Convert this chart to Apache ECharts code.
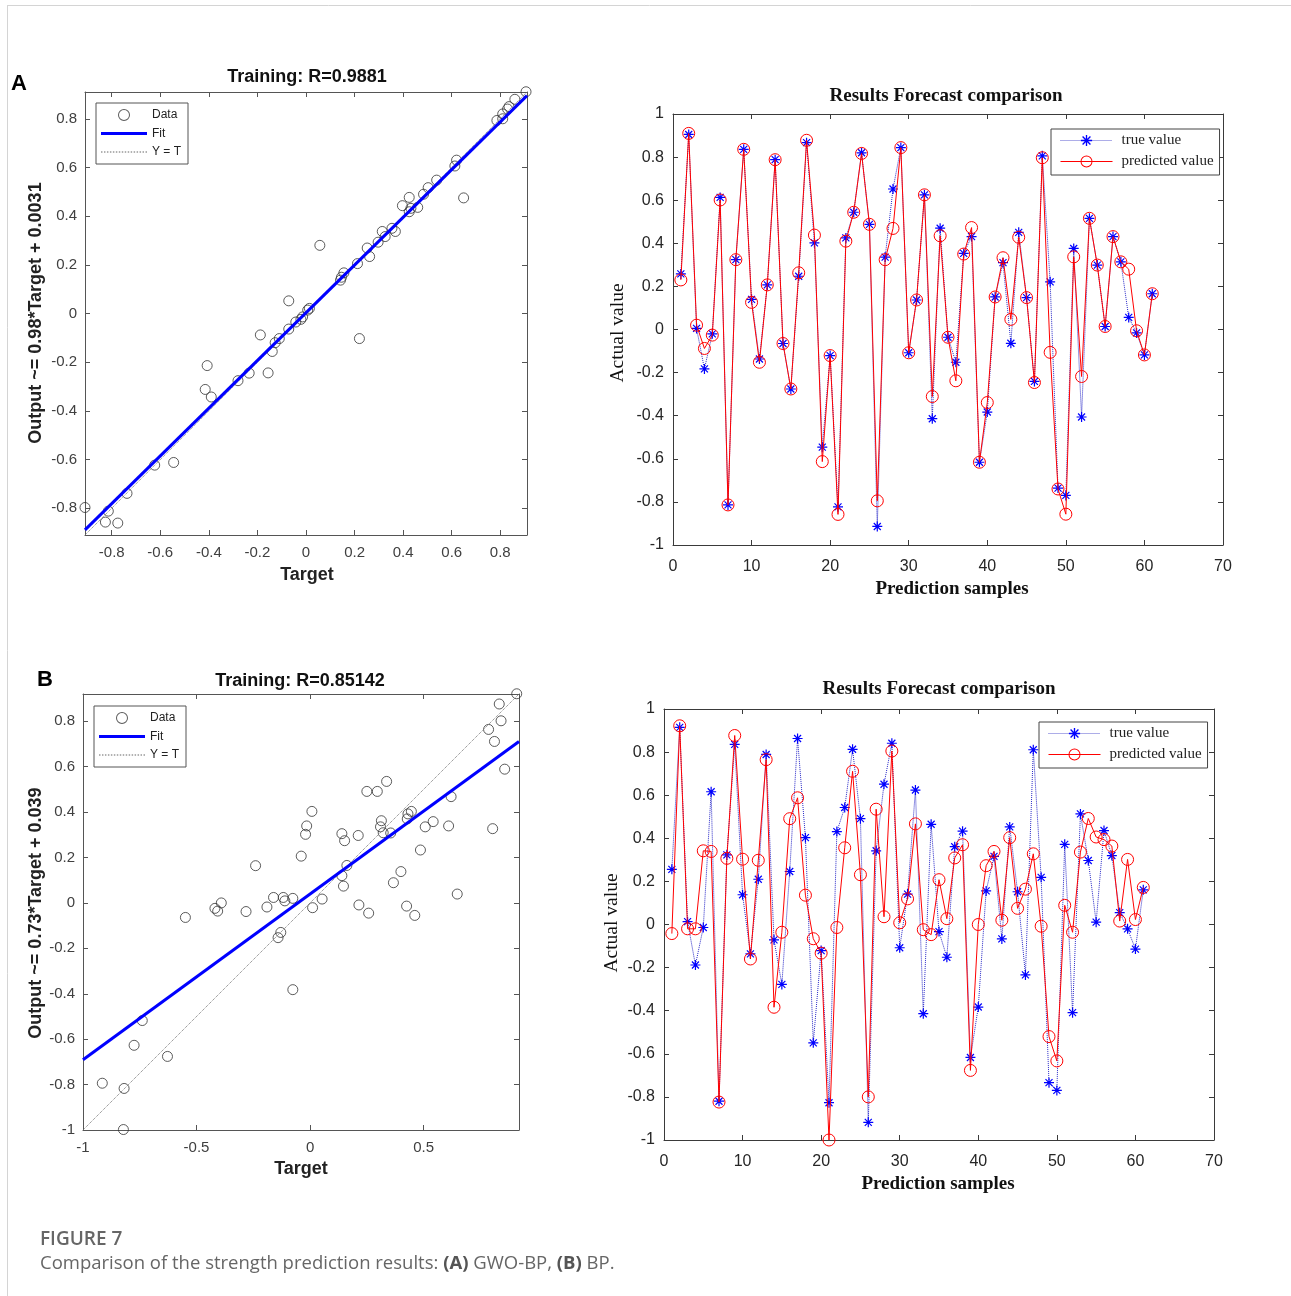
<!DOCTYPE html>
<html><head><meta charset="utf-8">
<script src="https://cdn.jsdelivr.net/npm/echarts@6/dist/echarts.min.js"></script>
<style>html,body{margin:0;padding:0;background:#fff}#c{width:1291px;height:1296px}</style>
</head><body><div id="c"></div>
<script>
// ---------- data ----------
// Panel A (GWO-BP) regression scatter
const targetA = [0.906,0.86,0.836,0.83,0.81,0.81,0.786,0.62,0.613,0.649,0.538,0.503,0.484,0.425,0.397,0.432,0.46,0.425,0.354,0.368,0.314,0.326,0.297,0.252,0.262,0.212,0.156,0.146,0.142,0.057,0.22,0.014,0.007,-0.014,-0.021,-0.042,-0.071,-0.071,-0.11,-0.127,-0.188,-0.139,-0.156,-0.234,-0.28,-0.407,-0.415,-0.39,-0.545,-0.623,-0.737,-0.91,-0.814,-0.826,-0.775];
const outputA = [0.911,0.88,0.85,0.84,0.82,0.80,0.793,0.63,0.606,0.475,0.548,0.517,0.49,0.477,0.443,0.432,0.436,0.418,0.35,0.337,0.337,0.316,0.293,0.269,0.234,0.205,0.167,0.149,0.137,0.28,-0.103,0.021,0.014,-0.014,-0.024,-0.035,0.052,-0.064,-0.103,-0.12,-0.088,-0.156,-0.244,-0.245,-0.276,-0.214,-0.312,-0.343,-0.612,-0.623,-0.739,-0.797,-0.812,-0.857,-0.861];
const fitA = [[-0.91,-0.889],[0.91,0.895]];
const identA = [[-0.91,-0.91],[0.91,0.91]];
// Panel B (BP) regression scatter
const targetB = [0.91,0.833,0.841,0.786,0.812,0.857,0.804,0.621,0.61,0.648,0.542,0.507,0.486,0.446,0.431,0.428,0.4,0.367,0.425,0.461,0.337,0.296,0.25,0.314,0.31,0.322,0.355,0.212,0.14,0.152,0.162,0.14,0.147,0.215,0.258,0.008,-0.015,-0.02,-0.039,0.053,0.011,-0.076,-0.118,-0.111,-0.161,-0.19,-0.129,-0.141,-0.076,-0.24,-0.282,-0.391,-0.419,-0.407,-0.549,-0.739,-0.775,-0.628,-0.915,-0.819,-0.822];
const outputB = [0.921,0.876,0.802,0.764,0.711,0.589,0.327,0.468,0.339,0.039,0.358,0.335,0.233,0.403,0.392,0.37,0.138,0.089,-0.014,-0.055,0.535,0.491,0.491,0.362,0.335,0.309,0.308,0.297,0.305,0.274,0.165,0.12,0.074,-0.009,-0.045,0.403,0.339,0.302,0.206,0.017,-0.021,0.02,0.024,0.009,0.024,-0.018,-0.13,-0.153,-0.382,0.164,-0.038,0.0,-0.024,-0.036,-0.064,-0.518,-0.627,-0.676,-0.794,-0.817,-0.998];
const fitB = [[-1,-0.691],[0.92,0.711]];
const identB = [[-1,-1],[0.92,0.92]];
// Forecast comparison, samples 1..61
const samples = Array.from({length: 61}, (_, i) => i + 1);
const trueA = [0.258,0.905,0.005,-0.183,-0.02,0.613,-0.814,0.324,0.836,0.14,-0.137,0.207,0.788,-0.065,-0.276,0.247,0.867,0.402,-0.546,-0.121,-0.823,0.425,0.544,0.82,0.488,-0.914,0.336,0.652,0.844,-0.108,0.137,0.625,-0.414,0.47,-0.036,-0.152,0.353,0.431,-0.616,-0.383,0.151,0.31,-0.064,0.451,0.148,-0.241,0.806,0.221,-0.736,-0.77,0.376,-0.406,0.516,0.299,0.014,0.431,0.314,0.056,-0.016,-0.118,0.166];
const predA = [0.23,0.91,0.02,-0.088,-0.026,0.601,-0.814,0.324,0.836,0.126,-0.152,0.207,0.788,-0.065,-0.276,0.263,0.878,0.438,-0.613,-0.121,-0.858,0.41,0.544,0.817,0.488,-0.795,0.324,0.469,0.844,-0.108,0.137,0.625,-0.311,0.435,-0.036,-0.238,0.35,0.473,-0.616,-0.339,0.151,0.333,0.047,0.428,0.148,-0.246,0.797,-0.106,-0.74,-0.857,0.337,-0.218,0.516,0.299,0.014,0.431,0.314,0.28,-0.006,-0.118,0.166];
const trueB = [0.256,0.915,0.013,-0.188,-0.014,0.616,-0.82,0.323,0.836,0.138,-0.136,0.21,0.789,-0.071,-0.278,0.246,0.863,0.403,-0.549,-0.121,-0.827,0.431,0.543,0.813,0.491,-0.918,0.342,0.651,0.841,-0.108,0.141,0.624,-0.414,0.465,-0.033,-0.152,0.361,0.433,-0.617,-0.383,0.156,0.316,-0.067,0.453,0.152,-0.234,0.811,0.219,-0.734,-0.77,0.372,-0.409,0.513,0.297,0.011,0.436,0.32,0.055,-0.02,-0.114,0.161];
const predB = [-0.042,0.922,-0.02,-0.02,0.342,0.339,-0.824,0.307,0.877,0.303,-0.16,0.298,0.765,-0.384,-0.036,0.491,0.588,0.136,-0.066,-0.133,-1.0,-0.014,0.356,0.711,0.231,-0.8,0.535,0.036,0.805,0.008,0.119,0.467,-0.024,-0.047,0.208,0.027,0.309,0.37,-0.677,0.0,0.273,0.339,0.02,0.403,0.075,0.164,0.328,-0.008,-0.52,-0.633,0.089,-0.036,0.336,0.492,0.406,0.394,0.364,0.016,0.302,0.023,0.172];
// tick values
const ticksA = [-0.8,-0.6,-0.4,-0.2,0,0.2,0.4,0.6,0.8];
const ticksBx = [-1,-0.5,0,0.5];
const ticksBy = [-1,-0.8,-0.6,-0.4,-0.2,0,0.2,0.4,0.6,0.8];
const ticksSampleX = [0,10,20,30,40,50,60,70];
const ticksValueY = [-1,-0.8,-0.6,-0.4,-0.2,0,0.2,0.4,0.6,0.8,1];

// ---------- helpers ----------
const pairs = (xs, ys) => xs.map((x, i) => [x, ys[i]]);
const SANS = 'Liberation Sans, Arial, sans-serif';
const SERIF = 'Liberation Serif, Times New Roman, serif';
const STAR = 'path://M-1,-0.12L1,-0.12L1,0.12L-1,0.12Z M-0.12,-1L0.12,-1L0.12,1L-0.12,1Z M-0.785,-0.615L-0.615,-0.785L0.785,0.615L0.615,0.785Z M-0.615,0.785L-0.785,0.615L0.615,-0.785L0.785,-0.615Z';
const RING = 'path://M6,0A6,6,0,1,1,6,12A6,6,0,1,1,6,0Z M6,1A5,5,0,1,0,6,11A5,5,0,1,0,6,1Z';
const FITICON = 'path://M0,0H46V3H0Z';
let dots = ''; for (let i = 0; i < 46; i += 3) dots += 'M' + i + ',0h1.5v1h-1.5z';
const DOTICON = 'path://' + dots;
const PREDICON = 'path://M0,5.5H52V6.5H0Z M26,0A6,6,0,1,1,26,12A6,6,0,1,1,26,0Z M26,1A5,5,0,1,0,26,11A5,5,0,1,0,26,1Z';

function axis(kind, grid, min, max, ticks, pos, show, st) {
  return {
    type: 'value', gridIndex: grid, min: min, max: max, position: pos,
    axisLine: {show: true, onZero: false, lineStyle: {color: st.line, width: 1}},
    axisTick: {show: true, inside: true, length: 5, customValues: ticks, lineStyle: {color: st.line}},
    axisLabel: {show: show, customValues: ticks, fontSize: st.fs, fontFamily: SANS, color: st.lab, margin: kind === 'x' ? st.mx : st.my},
    splitLine: {show: false}
  };
}
const stS = {line: '#555', lab: '#404040', fs: 15, mx: 10, my: 8};
const stL = {line: '#3a3a3a', lab: '#262626', fs: 16, mx: 14, my: 9};

const xAxes = [
  axis('x', 0, -0.91, 0.91, ticksA, 'bottom', true, stS), axis('x', 0, -0.91, 0.91, ticksA, 'top', false, stS),
  axis('x', 1, 0, 70, ticksSampleX, 'bottom', true, stL), axis('x', 1, 0, 70, ticksSampleX, 'top', false, stL),
  axis('x', 2, -1, 0.92, ticksBx, 'bottom', true, stS), axis('x', 2, -1, 0.92, ticksBx, 'top', false, stS),
  axis('x', 3, 0, 70, ticksSampleX, 'bottom', true, stL), axis('x', 3, 0, 70, ticksSampleX, 'top', false, stL)
];
const yAxes = [
  axis('y', 0, -0.91, 0.91, ticksA, 'left', true, stS), axis('y', 0, -0.91, 0.91, ticksA, 'right', false, stS),
  axis('y', 1, -1, 1, ticksValueY, 'left', true, stL), axis('y', 1, -1, 1, ticksValueY, 'right', false, stL),
  axis('y', 2, -1, 0.92, ticksBy, 'left', true, stS), axis('y', 2, -1, 0.92, ticksBy, 'right', false, stS),
  axis('y', 3, -1, 1, ticksValueY, 'left', true, stL), axis('y', 3, -1, 1, ticksValueY, 'right', false, stL)
];

function regSeries(ax, tg, out, fit, ident) {
  return [
    {type: 'scatter', name: 'Data', xAxisIndex: ax, yAxisIndex: ax, data: pairs(tg, out), symbol: 'circle', symbolSize: 10, clip: false, z: 2,
     itemStyle: {color: 'rgba(0,0,0,0)', borderColor: '#333', borderWidth: 1}},
    {type: 'line', name: 'Y = T', xAxisIndex: ax, yAxisIndex: ax, data: ident, symbol: 'none', z: 3,
     lineStyle: {color: '#777', width: 1, type: 'dotted'}, itemStyle: {color: '#777'}},
    {type: 'line', name: 'Fit', xAxisIndex: ax, yAxisIndex: ax, data: fit, symbol: 'none', z: 4,
     lineStyle: {color: '#0000ff', width: 3}, itemStyle: {color: '#0000ff'}}
  ];
}
function cmpSeries(ax, tr, pr) {
  return [
    {type: 'line', name: 'true value', xAxisIndex: ax, yAxisIndex: ax, data: pairs(samples, tr), symbol: STAR, symbolSize: 10, z: 2,
     lineStyle: {color: '#2828c8', width: 1, type: 'dotted'}, itemStyle: {color: '#0000ff', borderWidth: 0}},
    {type: 'line', name: 'predicted value', xAxisIndex: ax, yAxisIndex: ax, data: pairs(samples, pr), symbol: 'circle', symbolSize: 12, z: 3,
     lineStyle: {color: '#ff0000', width: 1}, itemStyle: {color: 'rgba(0,0,0,0)', borderColor: '#ff0000', borderWidth: 1}}
  ];
}

function regLegend(left, top) {
  return {
    orient: 'vertical', left: left, top: top, itemWidth: 46, itemHeight: 12, itemGap: 6.5, padding: [6, 7, 6, 5],
    borderColor: '#555', borderWidth: 1, backgroundColor: '#fff', selectedMode: false, align: 'left',
    textStyle: {fontSize: 12, fontFamily: SANS, color: '#222'},
    data: [
      {name: 'Data', icon: RING, itemStyle: {color: '#333', borderWidth: 0}},
      {name: 'Fit', icon: FITICON, itemStyle: {color: '#0000ff', borderWidth: 0}},
      {name: 'Y = T', icon: DOTICON, itemStyle: {color: '#666', borderWidth: 0}}
    ]
  };
}
function cmpLegend(left, top) {
  return {
    orient: 'vertical', left: left, top: top, itemWidth: 52, itemHeight: 14, itemGap: 6, padding: [4, 6, 6, 9],
    borderColor: '#444', borderWidth: 1, backgroundColor: '#fff', selectedMode: false, align: 'left',
    textStyle: {fontSize: 15, fontFamily: SERIF, color: '#222', padding: [0, 0, 0, 4]},
    data: [
      {name: 'true value', lineStyle: {width: 1, color: '#5a5ad0', type: 'dotted'}},
      {name: 'predicted value', icon: PREDICON, itemStyle: {color: '#ff0000', borderWidth: 0}}
    ]
  };
}

function txt(x, y, text, size, family, weight, color, rot) {
  return {type: 'text', x: x, y: y, rotation: rot || 0, z: 10,
    style: {text: text, fontSize: size, fontFamily: family, fontWeight: weight, fill: color,
      align: 'center', verticalAlign: 'middle', textAlign: 'center', textVerticalAlign: 'middle'}};
}

const graphics = [
  {type: 'line', shape: {x1: 8, y1: 5.5, x2: 1291, y2: 5.5}, style: {stroke: '#d4d4d4', lineWidth: 1}},
  {type: 'line', shape: {x1: 7.5, y1: 5, x2: 7.5, y2: 1296}, style: {stroke: '#d4d4d4', lineWidth: 1}},
  txt(19, 84, 'A', 22, SANS, 'bold', '#000'),
  txt(45, 680, 'B', 22, SANS, 'bold', '#000'),
  txt(307, 77, 'Training: R=0.9881', 18, SANS, 'bold', '#111'),
  txt(300, 681, 'Training: R=0.85142', 18, SANS, 'bold', '#111'),
  txt(307, 575, 'Target', 18, SANS, 'bold', '#222'),
  txt(301, 1169, 'Target', 18, SANS, 'bold', '#222'),
  txt(36, 313, 'Output ~= 0.98*Target + 0.0031', 18, SANS, 'bold', '#222', Math.PI / 2),
  txt(36, 913, 'Output ~= 0.73*Target + 0.039', 18, SANS, 'bold', '#222', Math.PI / 2),
  txt(946, 96, 'Results Forecast comparison', 19, SERIF, 'bold', '#111'),
  txt(939, 689, 'Results Forecast comparison', 19, SERIF, 'bold', '#111'),
  txt(952, 589, 'Prediction samples', 19, SERIF, 'bold', '#111'),
  txt(938, 1184, 'Prediction samples', 19, SERIF, 'bold', '#111'),
  txt(618, 333, 'Actual value', 19.5, SERIF, 'normal', '#111', Math.PI / 2),
  txt(612, 923, 'Actual value', 19.5, SERIF, 'normal', '#111', Math.PI / 2),
  {type: 'text', x: 40, y: 1240, z: 10, style: {text: 'FIGURE 7', fontSize: 19, fontFamily: 'Open Sans, sans-serif', fontWeight: 600, fill: '#666',
    align: 'left', verticalAlign: 'middle', textAlign: 'left', textVerticalAlign: 'middle'}},
  {type: 'text', x: 40, y: 1264, z: 10, style: {text: 'Comparison of the strength prediction results: {b|(A)} GWO-BP, {b|(B)} BP.',
    fontSize: 18.5, fontFamily: 'Open Sans, sans-serif', fill: '#666', align: 'left', verticalAlign: 'middle', textAlign: 'left', textVerticalAlign: 'middle',
    rich: {b: {fontWeight: 'bold', fontSize: 18.5, fontFamily: 'Open Sans, sans-serif', fill: '#555'}}}}
];

const chart = echarts.init(document.getElementById('c'), null, {renderer: 'canvas'});
chart.setOption({
  animation: false,
  backgroundColor: '#fff',
  grid: [
    {left: 85, top: 92, width: 442, height: 443, outerBoundsMode: 'none'},
    {left: 673, top: 114, width: 550, height: 431, outerBoundsMode: 'none'},
    {left: 83, top: 694, width: 436, height: 436, outerBoundsMode: 'none'},
    {left: 664, top: 709, width: 550, height: 431, outerBoundsMode: 'none'}
  ],
  xAxis: xAxes,
  yAxis: yAxes,
  legend: [regLegend(96, 103), cmpLegend(1051, 129), regLegend(94, 706), cmpLegend(1039, 722)],
  series: [].concat(
    regSeries(0, targetA, outputA, fitA, identA),
    cmpSeries(2, trueA, predA),
    regSeries(4, targetB, outputB, fitB, identB),
    cmpSeries(6, trueB, predB)
  ),
  graphic: graphics
});
</script>
</body></html>
